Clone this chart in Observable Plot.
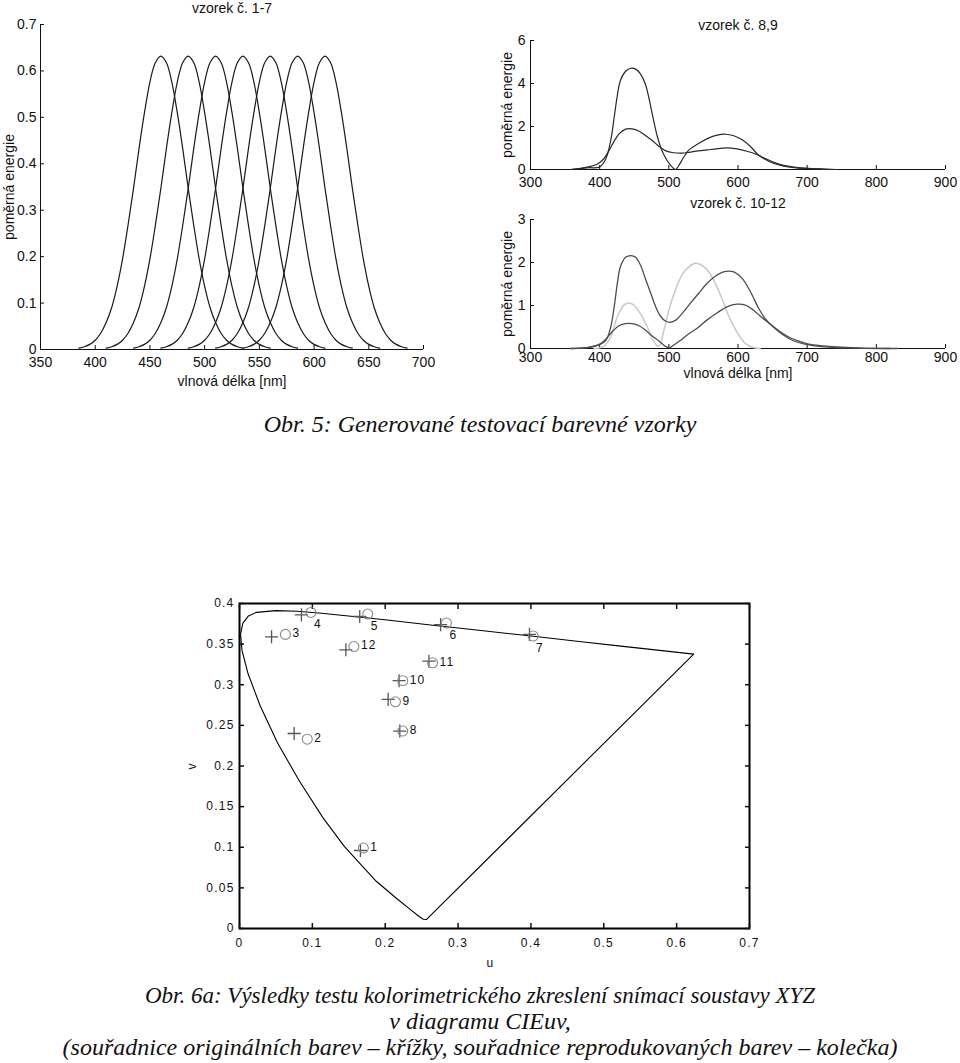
<!DOCTYPE html>
<html><head><meta charset="utf-8">
<script src="https://cdn.jsdelivr.net/npm/d3@7"></script>
<script src="https://cdn.jsdelivr.net/npm/@observablehq/plot@0.6"></script>
<style>
body{margin:0;background:#fff;}
#page{position:relative;width:960px;height:1063px;overflow:hidden;background:#fff;}
.panel{position:absolute;}
</style></head><body><div id="page"></div>
<script>
// ---------- Obr. 5, left: samples 1-7 ----------
const bandCenters = [460, 485, 510, 535, 560, 585, 610];
const bandOffsets = [-75,-70,-65,-60,-55,-50,-45,-40,-35,-30,-25,-20,-15,-10,-5,0,5,10,15,20,25,30,35,40,45,50,55,60,65,70,75];
const bandValues = [0.003,0.006,0.011,0.020,0.035,0.058,0.090,0.136,0.195,0.268,0.347,0.432,0.510,0.576,0.618,0.632,0.618,0.576,0.510,0.432,0.347,0.268,0.195,0.136,0.090,0.058,0.035,0.020,0.011,0.006,0.003];
const xTicksA = [350, 400, 450, 500, 550, 600, 650, 700];
const yTicksA = [0, 0.1, 0.2, 0.3, 0.4, 0.5, 0.6, 0.7];

// ---------- Obr. 5, right top: samples 8,9 ----------
const s8Wave = [358,382,400,409,416,421,425.5,430,437.5,445,452,459,466,471,476,483,490,497.5,505,509.5,514.5,521.5,529,536,546,558,570,582,594,606,618,628,637,652,666,681,700,724,743];
const s8Val  = [0,0.08,0.12,0.5,1.35,2.43,3.44,4.14,4.57,4.71,4.67,4.45,3.98,3.36,2.59,1.58,0.88,0.42,0.11,0,0.19,0.57,0.91,1.07,1.27,1.47,1.6,1.64,1.57,1.38,1.07,0.72,0.51,0.28,0.16,0.09,0.05,0.02,0];
const s9Wave = [358,382,397,406,413.5,421,428,437.5,447,457,466,476,486,495,507,519,531,546,560,574.5,584,598.5,613,627,637,652,666,681,700,720,740];
const s9Val  = [0,0.11,0.26,0.5,0.88,1.32,1.66,1.88,1.89,1.78,1.58,1.35,1.07,0.88,0.78,0.76,0.81,0.88,0.93,0.98,1.01,0.96,0.85,0.70,0.55,0.33,0.19,0.11,0.05,0.02,0];
const xTicksB = [300, 400, 500, 600, 700, 800, 900];
const yTicksB = [0, 2, 4, 6];

// ---------- Obr. 5, right bottom: samples 10-12 ----------
const s10Wave = [358,382,400,409,416,421,425.5,430,437.5,445,452,459,466,474,481,488,495,502,510,519,531,543,555,567,579,586.5,594,606,618,630,639,651,666,680,700,724,772,820];
const s10Val  = [0,0.02,0.09,0.19,0.5,0.97,1.51,1.9,2.12,2.16,2.12,1.94,1.63,1.28,0.97,0.75,0.64,0.61,0.66,0.81,1.05,1.28,1.51,1.68,1.78,1.80,1.78,1.63,1.32,0.93,0.70,0.50,0.31,0.18,0.09,0.04,0.01,0];
const s11Wave = [392,406,416,425.5,435,442,449.5,459,469,476,481,484.5,488,493,500,509.5,519,529,538.5,548,558,567,577,586,596,606,615,625,632];
const s11Val  = [0,0.05,0.27,0.74,1.01,1.06,1.01,0.81,0.50,0.23,0.10,0.05,0.12,0.43,0.89,1.36,1.71,1.90,1.98,1.93,1.78,1.52,1.15,0.78,0.45,0.20,0.07,0.01,0];
const s12Wave = [358,382,400,409,418,428,437.5,447,457,466,476,486,495,501,507,517,526,541,555,570,584,598.5,610.5,622.5,634.5,646.5,661,675.5,690,702,724,750,780,830];
const s12Val  = [0,0.02,0.10,0.22,0.39,0.53,0.58,0.58,0.53,0.43,0.29,0.17,0.05,0.02,0.08,0.19,0.31,0.47,0.66,0.83,0.97,1.03,1.01,0.89,0.72,0.57,0.39,0.25,0.16,0.10,0.06,0.03,0.01,0];
const yTicksC = [0, 1, 2, 3];

// ---------- Obr. 6a: CIE uv diagram ----------
const locusU = [0.2568,0.2522,0.2461,0.2347,0.2161,0.1877,0.1441,0.1147,0.0828,0.0521,0.0282,0.0119,0.0035,0.0014,0.0046,0.0123,0.0231,0.0501,0.0792,0.1127,0.1531,0.2026,0.2623,0.3315,0.4035,0.4692,0.5203,0.5830,0.6109,0.6234,0.2568];
const locusV = [0.0111,0.0113,0.0151,0.0233,0.0366,0.0581,0.1007,0.1362,0.1806,0.2285,0.2745,0.3132,0.3420,0.3621,0.3759,0.3847,0.3891,0.3912,0.3904,0.3880,0.3844,0.3796,0.3736,0.3667,0.3596,0.3530,0.3479,0.3417,0.3389,0.3377,0.0111];
const sampleIds = [1,2,3,4,5,6,7,8,9,10,11,12];
const origU = [0.166,0.075,0.044,0.085,0.165,0.276,0.398,0.220,0.204,0.219,0.260,0.146];
const origV = [0.096,0.240,0.359,0.386,0.384,0.374,0.362,0.243,0.282,0.305,0.329,0.343];
const reprU = [0.170,0.093,0.063,0.098,0.176,0.284,0.403,0.224,0.214,0.224,0.265,0.157];
const reprV = [0.099,0.233,0.362,0.389,0.387,0.376,0.360,0.243,0.279,0.305,0.327,0.347];
const uTicks = [0, 0.1, 0.2, 0.3, 0.4, 0.5, 0.6, 0.7];
const vTicks = [0, 0.05, 0.1, 0.15, 0.2, 0.25, 0.3, 0.35, 0.4];
const onLocusIds = [4, 5, 6, 7];

// ---------- texts ----------
const titleA = "vzorek č. 1-7", titleB = "vzorek č. 8,9", titleC = "vzorek č. 10-12";
const yLabel = "poměrná energie", xLabel = "vlnová délka [nm]";
const caption5 = "Obr. 5: Generované testovací barevné vzorky";
const caption6 = ["Obr. 6a: Výsledky testu kolorimetrického zkreslení snímací soustavy XYZ",
                  "v diagramu CIEuv,",
                  "(souřadnice originálních barev – křížky, souřadnice reprodukovaných barev – kolečka)"];

// ---------- build rows ----------
const bandRows = bandCenters.flatMap((c, k) => bandOffsets.map((o, i) => ({band: k, wave: c + o, value: bandValues[i]})));
const rowsOf = (name, w, v) => w.map((x, i) => ({s: name, wave: x, value: v[i]}));
const rowsB = [...rowsOf("8", s8Wave, s8Val), ...rowsOf("9", s9Wave, s9Val)];
const rows10 = rowsOf("10", s10Wave, s10Val), rows11 = rowsOf("11", s11Wave, s11Val), rows12 = rowsOf("12", s12Wave, s12Val);
const locus = locusU.map((u, i) => ({u, v: locusV[i]}));
const samples = sampleIds.map((id, i) => ({id, ou: origU[i], ov: origV[i], ru: reprU[i], rv: reprV[i]}));

const font = "Liberation Sans, Arial, Helvetica, sans-serif";
const ink = "#111";
const page = document.getElementById("page");
function place(svg, left, top) {
  const d = document.createElement("div");
  d.className = "panel"; d.style.left = left + "px"; d.style.top = top + "px";
  d.appendChild(svg); page.appendChild(d);
}
const fmt = d => String(d);
const lbl = (t, o) => Plot.text([t], {textAnchor: "middle", lineAnchor: "middle", ...o});

// Chart A
place(Plot.plot({
  width: 450, height: 390, marginLeft: 40, marginRight: 27, marginTop: 24, marginBottom: 41,
  x: {domain: [350, 700]}, y: {domain: [0, 0.7]},
  style: {fontFamily: font, fontSize: "14px", color: ink, background: "transparent"},
  marks: [
    Plot.ruleX([350], {stroke: ink}),
    Plot.ruleY([0], {stroke: ink}),
    Plot.axisX({ticks: xTicksA, tickSize: -4, tickPadding: 12, tickFormat: fmt, label: null}),
    Plot.axisY({ticks: yTicksA, tickSize: -4, tickPadding: 8, tickFormat: fmt, label: null}),
    Plot.line(bandRows, {x: "wave", y: "value", z: "band", stroke: "#1a1a1a", strokeWidth: 1.2, curve: "catmull-rom"}),
    lbl(titleA, {frameAnchor: "top", dy: -16}),
    lbl(xLabel, {frameAnchor: "bottom", dy: 32}),
    lbl(yLabel, {frameAnchor: "left", dx: -31, rotate: -90})
  ]
}), 0, 0);

// Chart B
place(Plot.plot({
  width: 470, height: 196, marginLeft: 40, marginRight: 15, marginTop: 40, marginBottom: 27,
  x: {domain: [300, 900]}, y: {domain: [0, 6]},
  style: {fontFamily: font, fontSize: "14px", color: ink, background: "transparent"},
  marks: [
    Plot.ruleX([300], {stroke: ink}),
    Plot.ruleY([0], {stroke: ink}),
    Plot.axisX({ticks: xTicksB, tickSize: -4, tickPadding: 12, tickFormat: fmt, label: null}),
    Plot.axisY({ticks: yTicksB, tickSize: -4, tickPadding: 9, tickFormat: fmt, label: null}),
    Plot.line(rowsB, {x: "wave", y: "value", z: "s", stroke: "#2a2a2a", strokeWidth: 1.2, curve: "catmull-rom"}),
    lbl(titleB, {frameAnchor: "top", dy: -15}),
    lbl(yLabel, {frameAnchor: "left", dx: -23, rotate: -90})
  ]
}), 490, 0);

// Chart C
place(Plot.plot({
  width: 470, height: 194, marginLeft: 40, marginRight: 15, marginTop: 23, marginBottom: 42,
  x: {domain: [300, 900]}, y: {domain: [0, 3]},
  style: {fontFamily: font, fontSize: "14px", color: ink, background: "transparent"},
  marks: [
    Plot.ruleX([300], {stroke: ink}),
    Plot.ruleY([0], {stroke: ink}),
    Plot.axisX({ticks: xTicksB, tickSize: -4, tickPadding: 8, tickFormat: fmt, label: null}),
    Plot.axisY({ticks: yTicksC, tickSize: -4, tickPadding: 9, tickFormat: fmt, label: null}),
    Plot.line(rows11, {x: "wave", y: "value", stroke: "#c9c9c9", strokeWidth: 1.5, curve: "catmull-rom"}),
    Plot.line(rows10, {x: "wave", y: "value", stroke: "#4d4d4d", strokeWidth: 1.3, curve: "catmull-rom"}),
    Plot.line(rows12, {x: "wave", y: "value", stroke: "#4d4d4d", strokeWidth: 1.3, curve: "catmull-rom"}),
    lbl(titleC, {frameAnchor: "top", dy: -16}),
    lbl(xLabel, {frameAnchor: "bottom", dy: 25}),
    lbl(yLabel, {frameAnchor: "left", dx: -23, rotate: -90})
  ]
}), 490, 196);

// Chart D
const right = samples.filter(d => !onLocusIds.includes(d.id));
const below = samples.filter(d => onLocusIds.includes(d.id));
place(Plot.plot({
  width: 600, height: 400, marginLeft: 59, marginRight: 31, marginTop: 23, marginBottom: 52,
  x: {domain: [0, 0.7]}, y: {domain: [0, 0.4]},
  style: {fontFamily: font, fontSize: "12px", letterSpacing: "1.2px", color: "#111", background: "transparent"},
  marks: [
    Plot.line(locus, {x: "u", y: "v", stroke: "#000", strokeWidth: 1.1}),
    Plot.frame({stroke: "#000", strokeWidth: 2}),
    Plot.axisX({ticks: uTicks, tickSize: -5, tickPadding: 15, strokeWidth: 1.5, tickFormat: fmt, label: null}),
    Plot.axisY({ticks: vTicks, tickSize: -5, tickPadding: 10, strokeWidth: 1.5, tickFormat: fmt, label: null}),
    Plot.axisX({anchor: "top", ticks: uTicks, tickSize: -5, strokeWidth: 1.5, tickFormat: () => "", label: null}),
    Plot.axisY({anchor: "right", ticks: vTicks, tickSize: -5, strokeWidth: 1.5, tickFormat: () => "", label: null}),
    Plot.dot(samples, {x: "ou", y: "ov", symbol: "plus", r: 4.3, stroke: "#555", strokeWidth: 1.3}),
    Plot.dot(samples, {x: "ru", y: "rv", r: 5, stroke: "#8a8a8a", strokeWidth: 1.1}),
    Plot.text(right, {x: "ru", y: "rv", text: "id", textAnchor: "start", dx: 7, dy: -1, fontSize: 12, fill: "#111"}),
    Plot.text(below, {x: "ru", y: "rv", text: "id", textAnchor: "start", dx: 3, dy: 12, fontSize: 12, fill: "#111"}),
    lbl("u", {frameAnchor: "bottom", dx: -4, dy: 35, fontSize: 12}),
    lbl("v", {frameAnchor: "left", dx: -47, rotate: -90, fontSize: 12})
  ]
}), 180, 580);

// Captions
const ns = "http://www.w3.org/2000/svg";
const capSvg = document.createElementNS(ns, "svg");
capSvg.setAttribute("width", 960); capSvg.setAttribute("height", 1063);
capSvg.style.position = "absolute"; capSvg.style.left = "0"; capSvg.style.top = "0"; capSvg.style.pointerEvents = "none";
const capLines = [[caption5, 432, null], [caption6[0], 1003, 670], [caption6[1], 1029, null], [caption6[2], 1055, null]];
for (const [t, y, w] of capLines) {
  const el = document.createElementNS(ns, "text");
  el.setAttribute("x", 480); el.setAttribute("y", y);
  el.setAttribute("text-anchor", "middle");
  el.setAttribute("font-family", "Liberation Serif, Times New Roman, serif");
  el.setAttribute("font-style", "italic");
  el.setAttribute("font-size", "24");
  el.setAttribute("fill", "#111");
  if (w) { el.setAttribute("textLength", w); el.setAttribute("lengthAdjust", "spacingAndGlyphs"); }
  el.textContent = t;
  capSvg.appendChild(el);
}
page.appendChild(capSvg);
</script></body></html>
